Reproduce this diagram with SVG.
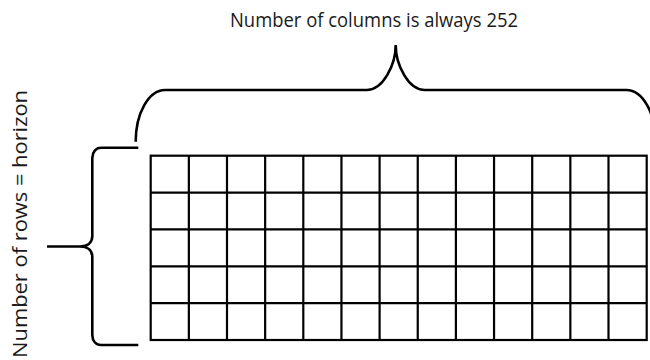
<svg xmlns="http://www.w3.org/2000/svg" width="650" height="360" viewBox="0 0 650 360">
<style>
.lbl{font-family:"Open Sans","Noto Sans","Liberation Sans",sans-serif;font-size:20px;fill:#1a1a1a}
.brace{fill:none;stroke:#000;stroke-width:2.6;stroke-linecap:butt}
.grid{fill:none;stroke:#000;stroke-width:2.2}
</style>
<rect width="650" height="360" fill="#fff"/>
<g id="columns-label">
<text class="lbl" x="374" y="27" text-anchor="middle" textLength="288" lengthAdjust="spacingAndGlyphs">Number of columns is always 252</text>
</g>
<g id="rows-label">
<text class="lbl" transform="translate(27,224) rotate(-90)" x="0" y="0" text-anchor="middle" textLength="268" lengthAdjust="spacingAndGlyphs">Number of rows = horizon</text>
</g>
<g id="connectors">
<path class="brace" d="M135.7,141.7 C135.7,113.2 148.8,90 165,90 L366.7,90 C382.7,90 395.7,65.2 395.7,45 C395.7,65.2 408.7,90 424.7,90 L626.4,90 C642.6,90 655.7,113.2 655.7,141.7"/>
<path class="brace" d="M138.3,147.7 L101,147.7 C96,147.7 92.3,152 92.3,158 L92.3,236 C92.3,243 87,246.5 80,246.5 L47,246.5 M80,246.5 C87,246.5 92.3,250 92.3,257 L92.3,335 C92.3,341 96,345 101,345 L138.3,345"/>
</g>
<g id="grid">
<rect class="grid" x="150.7" y="155.7" width="496" height="184.3"/>
<path class="grid" d="M188.85,155.7V340 M227,155.7V340 M265.15,155.7V340 M303.3,155.7V340 M341.45,155.7V340 M379.6,155.7V340 M417.75,155.7V340 M455.9,155.7V340 M494.05,155.7V340 M532.2,155.7V340 M570.35,155.7V340 M608.5,155.7V340 M150.7,192.56H646.7 M150.7,229.42H646.7 M150.7,266.28H646.7 M150.7,303.14H646.7"/>
</g>
</svg>
